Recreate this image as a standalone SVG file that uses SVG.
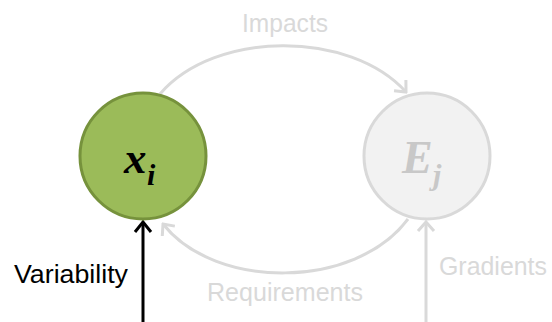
<svg xmlns="http://www.w3.org/2000/svg" width="552" height="322" viewBox="0 0 552 322">
<style>
.lbl{font-family:"Liberation Sans",Arial,sans-serif;font-size:26px}
.math{font-family:"Liberation Serif","Times New Roman",serif;font-weight:bold;font-style:italic}
.gray{fill:#d9d9d9}
.conn{fill:none;stroke-width:3}
</style>
<defs>
<marker id="ahG" markerUnits="userSpaceOnUse" viewBox="-12 -10 14 20" markerWidth="14" markerHeight="20" refX="0" refY="0" orient="auto">
<path d="M-9,-8 L0,0 L-9,8" fill="none" stroke="#d9d9d9" stroke-width="3"/>
</marker>
<marker id="ahK" markerUnits="userSpaceOnUse" viewBox="-12 -10 14 20" markerWidth="14" markerHeight="20" refX="0" refY="0" orient="auto">
<path d="M-10,-8 L0,0 L-10,8" fill="none" stroke="#000" stroke-width="3"/>
</marker>
</defs>
<g id="connectors">
<path class="conn" d="M160,94 C215,30 350,30 406,92" stroke="#d9d9d9" marker-end="url(#ahG)"/>
<path class="conn" d="M408,219 C355,290 215,290 163,224" stroke="#d9d9d9" marker-end="url(#ahG)"/>
<path class="conn" d="M426,322 L426,222" stroke="#d9d9d9" marker-end="url(#ahG)"/>
<path class="conn" d="M143,322 L143,222" stroke="#000" marker-end="url(#ahK)"/>
</g>
<g id="node-xi">
<circle cx="143" cy="156" r="63" fill="#9bbb59" stroke="#76923c" stroke-width="3"/>
<text class="math" x="124" y="173" font-size="45" fill="#000">x</text>
<text class="math" x="147" y="185" font-size="30" fill="#000">i</text>
</g>
<g id="node-ej">
<circle cx="427" cy="156" r="63" fill="#f2f2f2" stroke="#d9d9d9" stroke-width="3"/>
<text class="math" x="402" y="173" font-size="46" fill="#c8c8c8">E</text>
<text class="math" x="433" y="185" font-size="30" fill="#c8c8c8">j</text>
</g>
<g id="labels">
<text class="lbl gray" x="242" y="32" textLength="86" lengthAdjust="spacingAndGlyphs">Impacts</text>
<text class="lbl gray" x="207" y="301" textLength="156" lengthAdjust="spacingAndGlyphs">Requirements</text>
<text class="lbl gray" x="439" y="275" textLength="108" lengthAdjust="spacingAndGlyphs">Gradients</text>
<text class="lbl" x="14" y="283" fill="#000" textLength="114" lengthAdjust="spacingAndGlyphs">Variability</text>
</g>
</svg>
